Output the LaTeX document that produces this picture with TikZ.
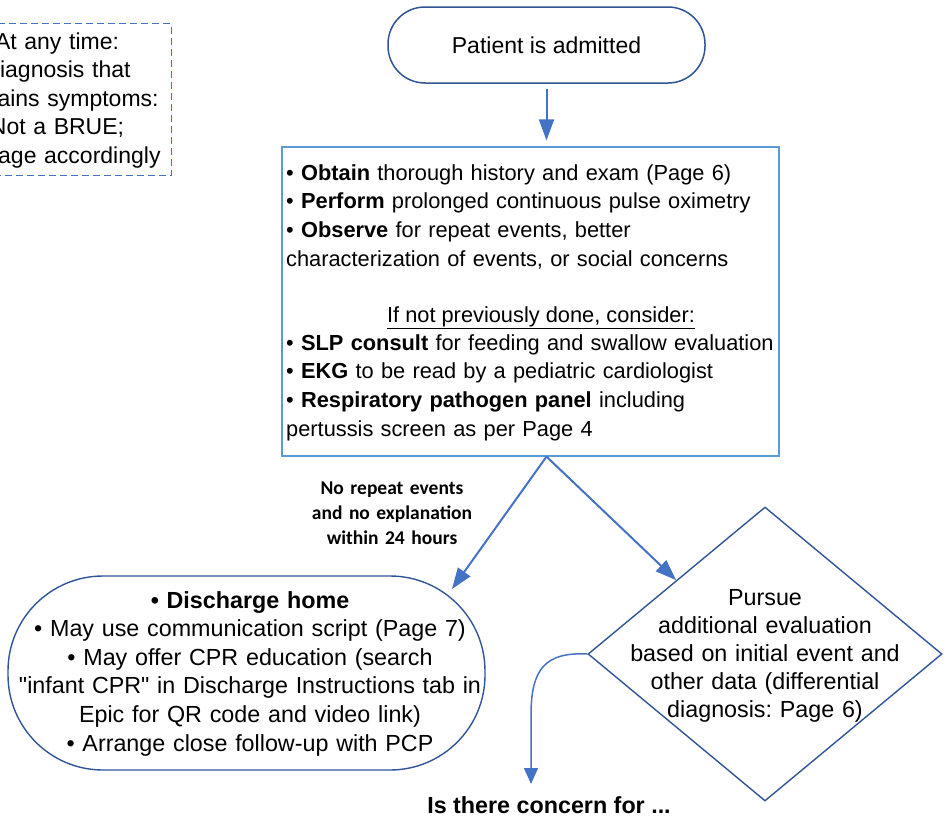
\documentclass[tikz,border=0pt]{standalone}
\usepackage{fontspec}
\setmainfont{Liberation Sans}[Ligatures=TeXOff]
\newfontfamily\calfont{Carlito}
\usetikzlibrary{shapes.geometric,arrows.meta}
\definecolor{arrowblue}{HTML}{4472C4}
\definecolor{darkblue}{HTML}{2F5597}
\definecolor{lightblue}{HTML}{5B9BD5}
\begin{document}
\frenchspacing
\begin{tikzpicture}[x=1pt,y=-1pt,
  arr/.style={draw=arrowblue, line width=2pt, -{Triangle[length=21pt,width=15pt]}},
  thinarr/.style={draw=arrowblue, line width=1.5pt, -{Triangle[length=16pt,width=14pt]}},
  txt/.style={inner sep=0pt, text=black},
  shapebox/.style={inner sep=0pt},
]
\useasboundingbox (0,0) rectangle (947,819);

% dashed note
\node[shapebox, draw=arrowblue, line width=1.1pt, dash pattern=on 7pt off 4pt,
      minimum width=232, minimum height=152, anchor=north east] (note) at (172,23) {};
\node[txt, anchor=base, text width=260, align=center,
      font=\fontsize{23}{28.5}\selectfont] (notetext) at (57,49)
  {At any time:\\ Diagnosis that\\ explains symptoms:\\ Not a BRUE;\\ manage accordingly};

% start
\node[shapebox, draw=darkblue, line width=1.5pt, rounded corners=37,
      minimum width=317, minimum height=76,
      font=\fontsize{23}{28}\selectfont] (adm) at (546.5,45) {Patient is admitted};

% main box
\node[shapebox, draw=lightblue, line width=1.2pt, minimum width=497, minimum height=309] (main) at (530.5,301.5) {};
\node[txt, anchor=base west, text width=520, align=left,
      font=\fontsize{21.8}{28.7}\selectfont] (maintop) at (286,180)
  {• \textbf{Obtain} thorough history and exam (Page 6)\\
   • \textbf{Perform} prolonged continuous pulse oximetry\\
   • \textbf{Observe} for repeat events, better\\
   characterization of events, or social concerns};
\node[txt, anchor=base, font=\fontsize{21.8}{28.7}\selectfont] (consider) at (541,322)
  {\underline{If not previously done, consider:}};
\node[txt, anchor=base west, text width=520, align=left,
      font=\fontsize{21.8}{28.7}\selectfont] (mainbot) at (286,350)
  {• \textbf{SLP consult} for feeding and swallow evaluation\\
   • \textbf{EKG} to be read by a pediatric cardiologist\\
   • \textbf{Respiratory pathogen panel} including\\
   pertussis screen as per Page 4};

% discharge
\node[shapebox, draw=darkblue, line width=1.4pt, rounded corners=95,
      minimum width=477, minimum height=194] (dis) at (246.5,673) {};
\node[txt, anchor=base, text width=490, align=center,
      font=\fontsize{23.3}{28.6}\selectfont] (distext) at (250,608)
  {\textbf{• Discharge home}\\
   • May use communication script (Page 7)\\
   • May offer CPR education (search\\
   "infant CPR" in Discharge Instructions tab in\\
   Epic for QR code and video link)\\
   • Arrange close follow-up with PCP};

% diamond
\node[shapebox, draw=darkblue, line width=1.4pt, diamond, aspect=1.2,
      minimum width=354, minimum height=294] (dia) at (765,654) {};
\node[txt, anchor=base, text width=320, align=center,
      font=\fontsize{23.3}{28.1}\selectfont] (diatext) at (765,605)
  {Pursue\\ additional evaluation\\ based on initial event and\\ other data (differential\\ diagnosis: Page 6)};

% label
\node[txt, anchor=base, text width=220, align=center,
      font=\calfont\bfseries\fontsize{19.5}{25}\selectfont] (lbl) at (392,494)
  {No repeat events\\ and no explanation\\ within 24 hours};

% question
\node[txt, anchor=base, font=\bfseries\fontsize{23.3}{28}\selectfont] (quest) at (549,813)
  {Is there concern for ...};

% connectors
\coordinate (split) at (adm.south |- main.south);
\coordinate (dtip) at (452,589);
\coordinate (ctip) at (531,784);
\draw[arr, shorten <=5pt, shorten >=6pt] (adm.south) -- (adm.south |- main.north);
\draw[arr] (split) -- (dtip);
\draw[arr] (split) -- (dia.north west);
\draw[thinarr] (dia.west) .. controls (546,652) and (531,668) .. (531,715) -- (ctip);
\end{tikzpicture}
\end{document}
